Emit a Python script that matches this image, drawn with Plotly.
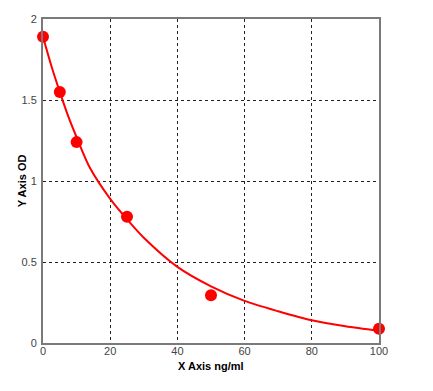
import plotly.graph_objects as go

# Measured standard points
conc = [0, 5, 10, 25, 50, 100]
od = [1.89, 1.55, 1.24, 0.78, 0.295, 0.088]

# Fitted curve
curve_x = [0, 2.5, 5, 7.5, 10, 14, 20, 26, 30, 40, 50, 60, 70, 80, 90, 100]
curve_y = [1.89, 1.71, 1.55, 1.40, 1.27, 1.08, 0.89, 0.74, 0.65, 0.47, 0.35, 0.26, 0.196, 0.14, 0.103, 0.075]

x_ticks = [0, 20, 40, 60, 80, 100]
y_ticks = [0, 0.5, 1, 1.5, 2]
y_tick_text = ["0", "0.5", "1", "1.5", "2"]

fig = go.Figure()
fig.add_trace(go.Scatter(x=curve_x, y=curve_y, mode="lines",
                         line=dict(color="#ff0000", width=2, shape="spline", smoothing=0.8),
                         hoverinfo="skip", showlegend=False))
fig.add_trace(go.Scatter(x=conc, y=od, mode="markers",
                         marker=dict(color="#ff0000", size=12), showlegend=False,
                         cliponaxis=False))

axis_common = dict(showline=True, linecolor="#7a7a7a", linewidth=2, mirror=True,
                   showgrid=True, gridcolor="#222222", gridwidth=1, griddash="3px,3px",
                   zeroline=False, ticks="", tickfont=dict(family="Liberation Sans", size=11, color="#444444"))

fig.update_layout(
    width=433, height=391,
    margin=dict(l=43, r=54, t=19, b=48),
    paper_bgcolor="white", plot_bgcolor="white",
    xaxis=dict(range=[0, 100], tickvals=x_ticks, ticklabelstandoff=-3, **axis_common),
    yaxis=dict(range=[0, 2], tickvals=y_ticks, ticktext=y_tick_text, ticklabelstandoff=2, **axis_common),
    annotations=[
        dict(text="<b>X Axis ng/ml</b>", xref="paper", yref="paper", x=0.5, y=-0.045,
             xanchor="center", yanchor="top", showarrow=False,
             font=dict(family="Liberation Sans", size=11, color="#000000")),
        dict(text="<b>Y Axis OD</b>", xref="paper", yref="paper", x=-0.062, y=0.5,
             xanchor="center", yanchor="middle", textangle=-90, showarrow=False,
             font=dict(family="Liberation Sans", size=11, color="#000000")),
    ],
)

fig.write_html("out.html")
